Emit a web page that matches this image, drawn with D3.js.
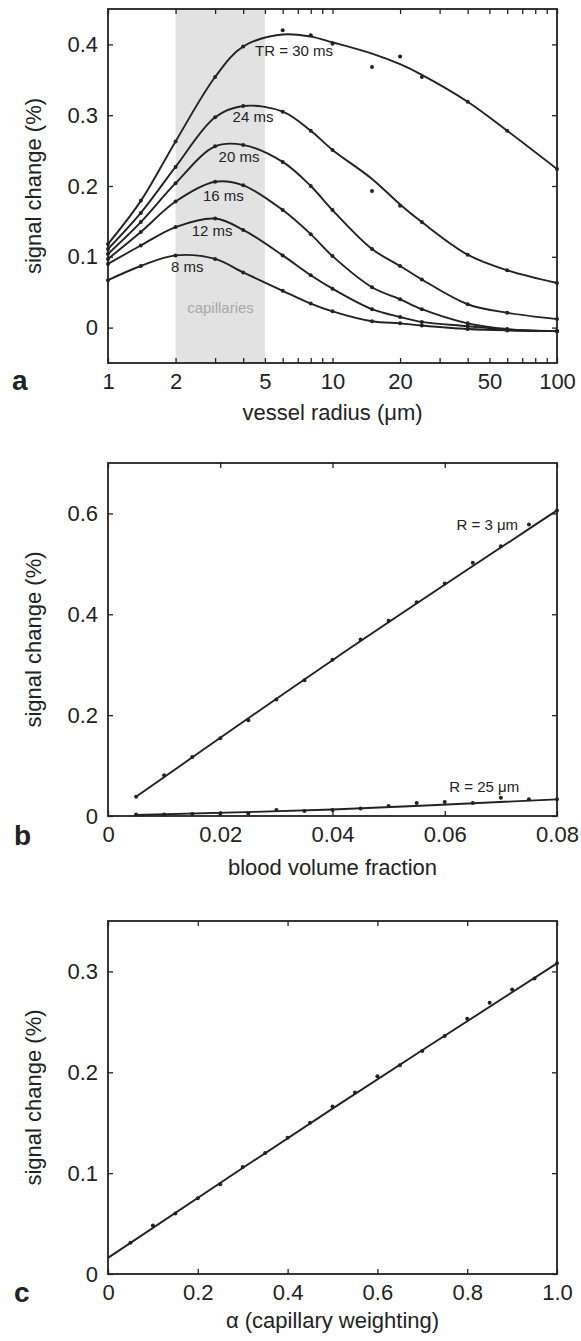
<!DOCTYPE html>
<html>
<head>
<meta charset="utf-8">
<title>Signal change</title>
<script src="https://cdnjs.cloudflare.com/ajax/libs/d3/7.8.5/d3.min.js"></script>
<style>
  body { margin: 0; background: #fff; }
  svg text { font-family: "Liberation Sans", Arial, sans-serif; }
</style>
</head>
<body>
<div id="chart"></div>
<script>
// ---- panel a : signal change vs vessel radius, one curve per TR
var radius = [1, 1.4, 2, 3, 4, 6, 8, 10, 15, 20, 25, 40, 60, 100];
var tr30 = [0.118, 0.179, 0.263, 0.354, 0.397, 0.420, 0.413, 0.401, 0.368, 0.383, 0.354, 0.319, 0.278, 0.224];
var tr30Fit = [0.118, 0.179, 0.263, 0.354, 0.397, 0.414, 0.411, 0.403, 0.387, 0.372, 0.357, 0.319, 0.278, 0.224];
var tr24 = [0.111, 0.162, 0.227, 0.297, 0.313, 0.305, 0.278, 0.251, 0.193, 0.172, 0.149, 0.103, 0.081, 0.063];
var tr24Fit = [0.111, 0.162, 0.227, 0.297, 0.313, 0.305, 0.278, 0.251, 0.210, 0.174, 0.149, 0.103, 0.081, 0.063];
var tr20 = [0.104, 0.149, 0.204, 0.256, 0.258, 0.234, 0.200, 0.166, 0.111, 0.087, 0.068, 0.033, 0.021, 0.012];
var tr16 = [0.097, 0.135, 0.178, 0.206, 0.201, 0.166, 0.132, 0.101, 0.057, 0.040, 0.026, 0.006, -0.002, -0.005];
var tr12 = [0.090, 0.116, 0.142, 0.154, 0.138, 0.102, 0.074, 0.055, 0.026, 0.015, 0.008, 0.002, -0.003, -0.005];
var tr8  = [0.067, 0.087, 0.102, 0.097, 0.078, 0.052, 0.034, 0.023, 0.009, 0.006, 0.003, -0.002, -0.004, -0.005];
var trNames  = ["TR = 30 ms", "24 ms", "20 ms", "16 ms", "12 ms", "8 ms"];
var trLabelR = [4.52, 3.59, 3.11, 2.65, 2.36, 1.91];
var trLabelS = [0.383, 0.290, 0.234, 0.179, 0.130, 0.078];
var capRange = [2, 5];
var xTicksA = [1, 2, 5, 10, 20, 50, 100];
var yTicksA = [0, 0.1, 0.2, 0.3, 0.4];

// ---- panel b : signal change vs blood volume fraction
var bvf = [0.005, 0.01, 0.015, 0.02, 0.025, 0.03, 0.035, 0.04, 0.045, 0.05, 0.055, 0.06, 0.065, 0.07, 0.075, 0.08];
var r3  = [0.038, 0.081, 0.117, 0.154, 0.190, 0.231, 0.269, 0.310, 0.350, 0.387, 0.424, 0.461, 0.502, 0.535, 0.578, 0.606];
var r25 = [0.003, 0.003, 0.004, 0.005, 0.005, 0.012, 0.010, 0.012, 0.015, 0.020, 0.026, 0.028, 0.026, 0.036, 0.033, 0.033];
var bvfFit = [0.005, 0.04, 0.08];
var r3Fit  = [0.038, 0.309, 0.606];
var r25Fit = [0.002, 0.013, 0.033];
var rNames  = ["R = 3 \u03bcm", "R = 25 \u03bcm"];
var rLabelX = [0.0621, 0.0608];
var rLabelS = [0.567, 0.0475];
var xTicksB = [0, 0.02, 0.04, 0.06, 0.08];
var yTicksB = [0, 0.2, 0.4, 0.6];

// ---- panel c : signal change vs capillary weighting
var alpha = [0.05, 0.1, 0.15, 0.2, 0.25, 0.3, 0.35, 0.4, 0.45, 0.5, 0.55, 0.6, 0.65, 0.7, 0.75, 0.8, 0.85, 0.9, 0.95, 1.0];
var capW  = [0.031, 0.048, 0.060, 0.075, 0.089, 0.106, 0.120, 0.135, 0.150, 0.166, 0.180, 0.196, 0.207, 0.221, 0.236, 0.253, 0.269, 0.282, 0.293, 0.308];
var alphaFit = [0, 0.5, 1];
var capWFit  = [0.016, 0.164, 0.308];
var xTicksC = [0, 0.2, 0.4, 0.6, 0.8, 1.0];
var yTicksC = [0, 0.1, 0.2, 0.3];

var W = 581, H = 1341;
var left = 108, right = 557;
var ink = "#222";

var svg = d3.select("#chart").append("svg")
    .attr("width", W)
    .attr("height", H);
svg.append("rect").attr("width", W).attr("height", H).attr("fill", "#fff");

function fmt(d) { return d === 0 ? "0" : d3.format(".1f")(d); }
function fmt2(d) { return d === 0 ? "0" : d3.format(".2f")(d); }

function zip(xs, ys) {
    return xs.map(function(v, i) { return [v, ys[i]]; });
}

// frame, inward ticks on four sides, tick labels, titles
function frame(p) {
    var g = svg.append("g");
    var x = p.x, y = p.y;
    var styleAxis = function(sel) {
        sel.select(".domain").remove();
        sel.attr("font-size", 22).attr("font-family", null).attr("color", ink);
        sel.selectAll("line").attr("stroke-width", 1.3);
    };
    g.append("g").attr("transform", "translate(0," + p.bottom + ")")
        .call(d3.axisBottom(x).tickValues(p.xTickAll).tickSize(-5).tickPadding(10).tickFormat(p.xFmt))
        .call(styleAxis);
    g.append("g").attr("transform", "translate(0," + p.top + ")")
        .call(d3.axisTop(x).tickValues(p.xTickAll).tickSize(-5).tickFormat(""))
        .call(styleAxis);
    g.append("g").attr("transform", "translate(" + left + ",0)")
        .call(d3.axisLeft(y).tickValues(p.yTicks).tickSize(-5).tickPadding(10).tickFormat(p.yFmt))
        .call(styleAxis);
    g.append("g").attr("transform", "translate(" + right + ",0)")
        .call(d3.axisRight(y).tickValues(p.yTicks).tickSize(-5).tickFormat(""))
        .call(styleAxis);
    g.append("rect")
        .attr("x", left).attr("y", p.top)
        .attr("width", right - left).attr("height", p.bottom - p.top)
        .attr("fill", "none").attr("stroke", ink).attr("stroke-width", 1.8);

    g.append("text")
        .attr("x", (left + right) / 2).attr("y", p.bottom + p.titleGap)
        .attr("text-anchor", "middle").attr("font-size", 22).attr("fill", ink)
        .text(p.xTitle);
    g.append("text")
        .attr("transform", "translate(41," + (p.top + p.bottom) / 2 + ") rotate(-90)")
        .attr("text-anchor", "middle").attr("font-size", 22).attr("fill", ink)
        .text("signal change (%)");
    g.append("text")
        .attr("x", p.letterX).attr("y", p.letterY)
        .attr("font-size", 28).attr("font-weight", "bold").attr("fill", ink)
        .text(p.letter);
}

function curve(g, x, y, xs, ys) {
    var line = d3.line()
        .x(function(d) { return x(d[0]); })
        .y(function(d) { return y(d[1]); })
        .curve(d3.curveCatmullRom.alpha(0.5));
    g.append("path")
        .datum(zip(xs, ys))
        .attr("d", line)
        .attr("fill", "none").attr("stroke", ink).attr("stroke-width", 1.9);
}

function dots(g, x, y, xs, ys) {
    g.selectAll(null)
        .data(zip(xs, ys))
        .enter().append("circle")
        .attr("cx", function(d) { return x(d[0]); })
        .attr("cy", function(d) { return y(d[1]); })
        .attr("r", 2)
        .attr("fill", ink);
}

// ---------- panel a
var topA = 9, botA = 363;
var xA = d3.scaleLog().domain([1, 100]).range([left, right]);
var yA = d3.scaleLinear().domain([-0.05, 0.45]).range([botA, topA]);

svg.append("rect")
    .attr("x", xA(capRange[0])).attr("y", topA)
    .attr("width", xA(capRange[1]) - xA(capRange[0]))
    .attr("height", botA - topA)
    .attr("fill", "#e2e2e2");
svg.append("text")
    .attr("x", xA(3.17)).attr("y", yA(0.02))
    .attr("text-anchor", "middle").attr("font-size", 15).attr("fill", "#a8a8a8")
    .text("capillaries");

var gA = svg.append("g");
var trSeries = [tr30, tr24, tr20, tr16, tr12, tr8];
var trFits = [tr30Fit, tr24Fit, tr20, tr16, tr12, tr8];
trSeries.forEach(function(s, i) {
    curve(gA, xA, yA, radius, trFits[i]);
    dots(gA, xA, yA, radius, s);
    gA.append("text")
        .attr("x", xA(trLabelR[i])).attr("y", yA(trLabelS[i]))
        .attr("font-size", 15).attr("fill", ink)
        .text(trNames[i]);
});

frame({
    x: xA, y: yA, top: topA, bottom: botA,
    xTickAll: xA.ticks(), yTicks: yTicksA,
    xFmt: function(d) { return xTicksA.indexOf(d) >= 0 ? d : ""; },
    yFmt: fmt,
    xTitle: "vessel radius (\u03bcm)", titleGap: 57,
    letter: "a", letterX: 12, letterY: 390
});

// ---------- panel b
var topB = 463, botB = 816;
var xB = d3.scaleLinear().domain([0, 0.08]).range([left, right]);
var yB = d3.scaleLinear().domain([0, 0.7]).range([botB, topB]);
var gB = svg.append("g");
curve(gB, xB, yB, bvfFit, r3Fit);
dots(gB, xB, yB, bvf, r3);
curve(gB, xB, yB, bvfFit, r25Fit);
dots(gB, xB, yB, bvf, r25);
rNames.forEach(function(n, i) {
    gB.append("text")
        .attr("x", xB(rLabelX[i])).attr("y", yB(rLabelS[i]))
        .attr("font-size", 15).attr("fill", ink)
        .text(n);
});
frame({
    x: xB, y: yB, top: topB, bottom: botB,
    xTickAll: xTicksB, yTicks: yTicksB,
    xFmt: fmt2, yFmt: fmt,
    xTitle: "blood volume fraction", titleGap: 59,
    letter: "b", letterX: 14, letterY: 845
});

// ---------- panel c
var topC = 921, botC = 1274;
var xC = d3.scaleLinear().domain([0, 1]).range([left, right]);
var yC = d3.scaleLinear().domain([0, 0.35]).range([botC, topC]);
var gC = svg.append("g");
curve(gC, xC, yC, alphaFit, capWFit);
dots(gC, xC, yC, alpha, capW);
frame({
    x: xC, y: yC, top: topC, bottom: botC,
    xTickAll: xTicksC, yTicks: yTicksC,
    xFmt: fmt, yFmt: fmt,
    xTitle: "\u03b1 (capillary weighting)", titleGap: 54,
    letter: "c", letterX: 14, letterY: 1302
});
</script>
</body>
</html>
